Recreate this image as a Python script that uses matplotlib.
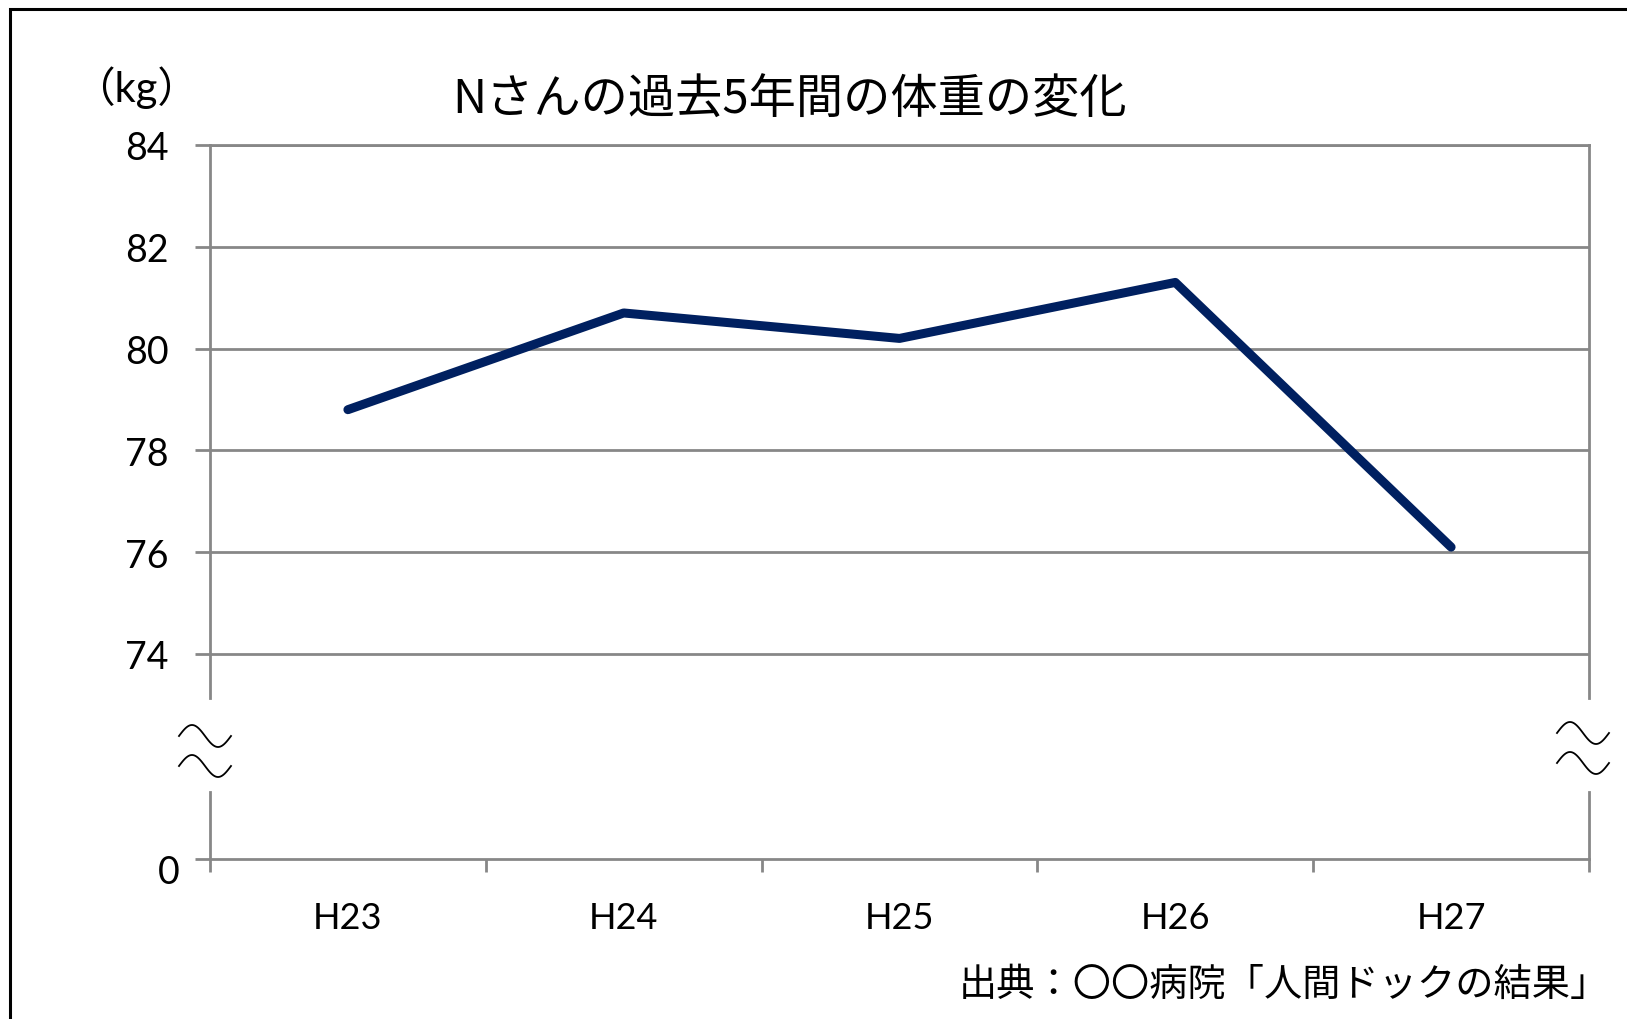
import numpy as np
import matplotlib
matplotlib.use('Agg')
import matplotlib.pyplot as plt
from matplotlib.patches import Rectangle
from matplotlib.transforms import ScaledTranslation

plt.rcParams['font.family'] = ['Lato', 'Noto Sans CJK JP']

# weight of Mr. N, by fiscal year (kg)
years = ['H23', 'H24', 'H25', 'H26', 'H27']
weight = [78.8, 80.7, 80.2, 81.3, 76.1]
upper_ticks = [74, 76, 78, 80, 82, 84]
lower_ticks = [0]

title = 'Nさんの過去5年間の体重の変化'
unit = '（kg）'
source = '出典：〇〇病院「人間ドックの結果」'

W, H = 1627, 1020
GRAY = '#878787'
NAVY = '#002060'
PX_PER_KG = 50.9


def px(x, y):
    # pixel position (from top-left) -> figure fraction
    return x / W, 1 - y / H


def break_mark(fig, cx, cy):
    # two small waves across the cut in the axis
    u = np.linspace(0, 1, 80)
    xs = cx - 26 + 52 * u
    for dy in (-15, 15):
        ys = cy + dy - 11 * np.sin(2 * np.pi * u)
        fx, fy = px(xs, ys)
        fig.add_artist(plt.Line2D(fx, fy, color='black', lw=1.3,
                                  transform=fig.transFigure))


def main():
    fig = plt.figure(figsize=(W / 100, H / 100), dpi=100)
    x = np.arange(len(years))

    left, right = 210, 1589
    top_y, cut_y = 146, 699
    resume_y, zero_y = 793, 860

    ax = fig.add_axes([left / W, 1 - cut_y / H,
                       (right - left) / W, (cut_y - top_y) / H])
    axb = fig.add_axes([left / W, 1 - zero_y / H,
                        (right - left) / W, (zero_y - resume_y) / H],
                       sharex=ax)

    ax.plot(x, weight, color=NAVY, lw=6.5, solid_capstyle='round',
            solid_joinstyle='round', zorder=3)

    ax.set_xlim(-0.5, len(years) - 0.5)
    ax.set_ylim(84 - (cut_y - top_y) / PX_PER_KG, 84)
    axb.set_ylim(0, (zero_y - resume_y) / PX_PER_KG)

    for a in (ax, axb):
        for s in a.spines.values():
            s.set_color(GRAY)
            s.set_linewidth(2.0)
        a.tick_params(axis='y', direction='out', length=10.8, width=2.0,
                      color=GRAY, pad=19, labelsize=27)

    # upper part: gridlines, no bottom edge
    ax.spines['bottom'].set_visible(False)
    ax.set_yticks(upper_ticks)
    ax.grid(axis='y', color=GRAY, lw=2.0)
    ax.set_axisbelow(True)

    # lower part: only the zero line and the category ticks
    axb.spines['top'].set_visible(False)
    axb.set_yticks(lower_ticks)
    axb.set_xticks(x)
    axb.set_xticklabels(years)
    axb.set_xticks(np.arange(len(years) + 1) - 0.5, minor=True)
    axb.tick_params(axis='x', which='major', length=0, pad=30,
                    labelsize=26)
    axb.tick_params(axis='x', which='minor', direction='out', length=9.4,
                    width=2.0, color=GRAY)
    ax.tick_params(axis='x', which='both', bottom=False, labelbottom=False)
    for lab in axb.get_yticklabels():
        lab.set_transform(lab.get_transform() +
                          ScaledTranslation(0.11, -0.10, fig.dpi_scale_trans))

    break_mark(fig, left - 5, 752)
    break_mark(fig, right - 6, 749)

    fig.text(*px(790, 101), title, ha='center', va='center', fontsize=34,
             family=['Noto Sans CJK JP'])
    fig.text(*px(136, 88), unit, ha='center', va='center', fontsize=30)
    fig.text(*px(1609, 985), source, ha='right', va='center',
             fontsize=27.5, family=['Noto Sans CJK JP'])

    # outer frame, running off the right and bottom edges
    fig.add_artist(Rectangle(px(10, 1200), 2000 / W, 1190 / H,
                             transform=fig.transFigure, fill=False,
                             ec='black', lw=2.2, clip_on=False))

    fig.savefig('out.png', dpi=100)


if __name__ == '__main__':
    main()
